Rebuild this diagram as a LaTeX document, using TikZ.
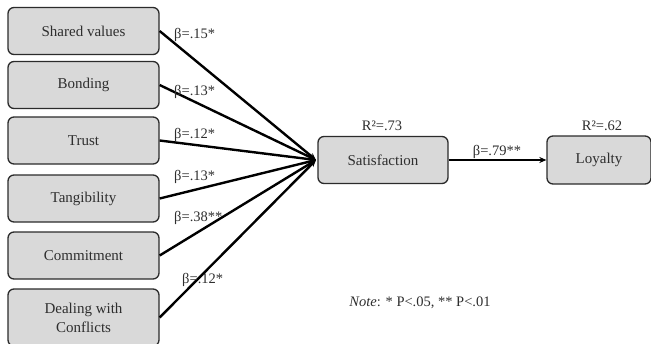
\documentclass[tikz,border=0pt]{standalone}
\usepackage{fontspec}
\setmainfont{Liberation Serif}
\usetikzlibrary{arrows.meta}
\definecolor{boxfill}{HTML}{D9D9D9}
\definecolor{boxline}{HTML}{2B2B2B}
\definecolor{txt}{HTML}{2E2E2E}
\tikzset{
  vbox/.style={draw=boxline, line width=1.3pt, fill=boxfill, rounded corners=6pt,
    minimum width=151pt, minimum height=47pt, inner sep=0pt, align=center,
    text=txt, font=\fontsize{15}{19}\selectfont},
  path/.style={line width=2.4pt, -{Stealth[length=7pt,width=6pt]}},
  lab/.style={text=txt, font=\fontsize{14.5}{17}\selectfont, inner sep=0pt, anchor=west}
}
\begin{document}
\begin{tikzpicture}[x=1pt,y=-1pt]
\useasboundingbox (0,0) rectangle (651,343);
\node[vbox] (sv) at (83.5,31) {Shared values};
\node[vbox] (bo) at (83.5,85) {Bonding};
\node[vbox] (tr) at (83.5,140.5) {Trust};
\node[vbox] (ta) at (83.5,198.5) {Tangibility};
\node[vbox] (co) at (83.5,255.5) {Commitment};
\node[vbox, minimum height=57pt] (dc) at (83.5,317.5) {Dealing with\\Conflicts};
\node[vbox, minimum width=130pt] (sa) at (383,160) {Satisfaction};
\node[vbox, minimum width=104pt, minimum height=48pt] (lo) at (599,160) {Loyalty};
\coordinate (c) at (316,160);
\foreach \n in {sv,bo,tr,ta,co,dc} \draw[path] (\n.east) -- (c);
\draw[path] (sa.east) -- (lo.west);
\node[lab] (l1) at (174,35) {β=.15*};
\node[lab] (l2) at (174,92) {β=.13*};
\node[lab] (l3) at (174,135) {β=.12*};
\node[lab] (l4) at (174,177) {β=.13*};
\node[lab] (l5) at (174,218) {β=.38**};
\node[lab] (l6) at (182,280) {β=.12*};
\node[lab, anchor=center] (l7) at (497,152) {β=.79**};
\node[lab, anchor=center] (r1) at (382,126) {R²=.73};
\node[lab, anchor=center] (r2) at (602,126) {R²=.62};
\node[lab, anchor=center] (nt) at (420,303) {\textit{Note}: * P<.05, ** P<.01};
\end{tikzpicture}
\end{document}
